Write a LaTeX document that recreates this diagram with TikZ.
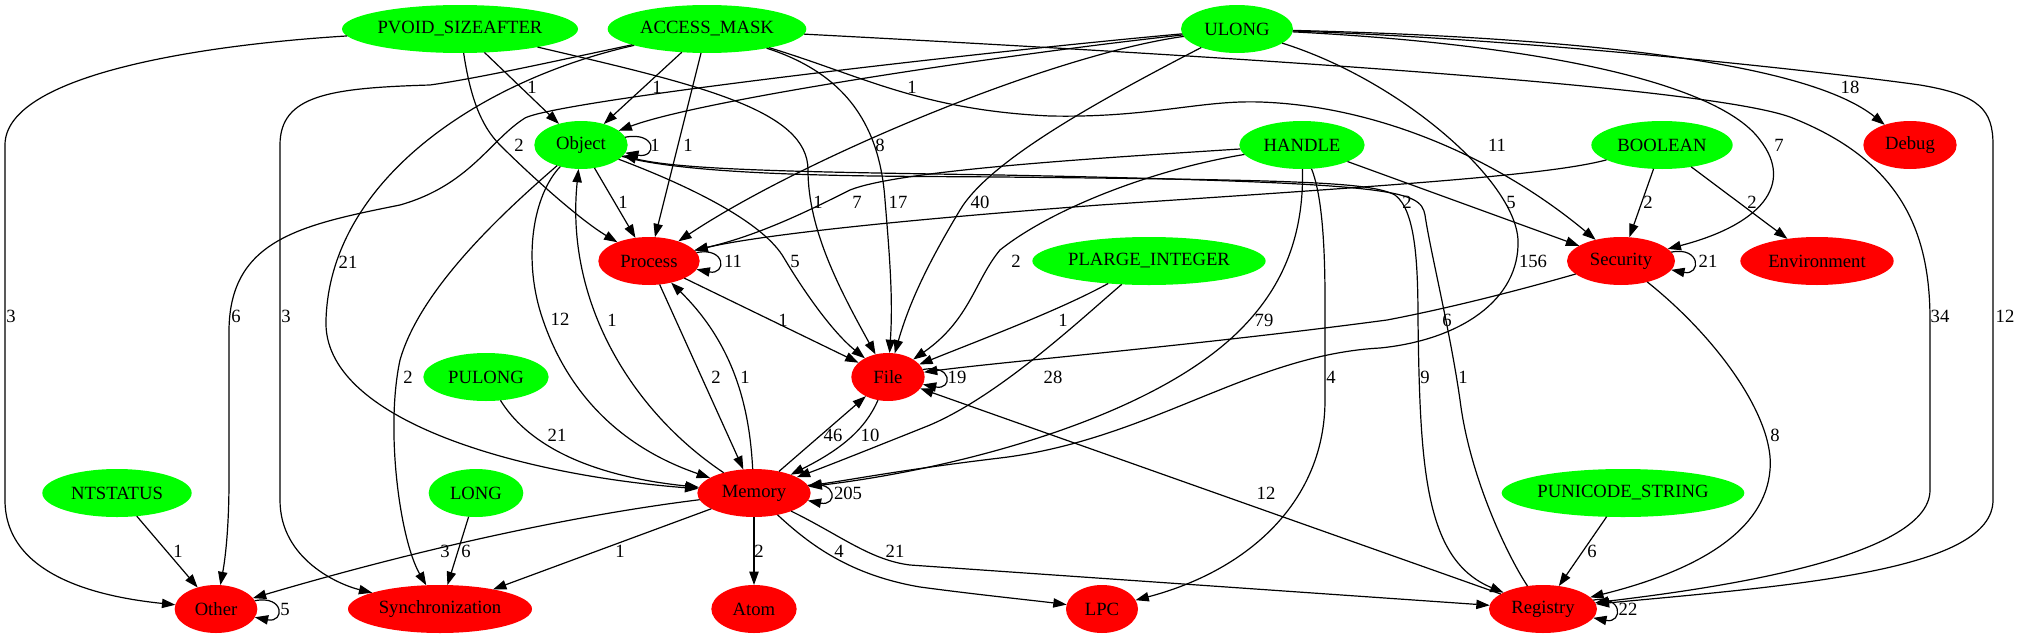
\documentclass[tikz,border=0pt]{standalone}
\usepackage{fontspec}
\setmainfont{Liberation Serif}
\usetikzlibrary{arrows.meta,shapes.geometric}
\definecolor{typegreen}{RGB}{0,255,0}
\definecolor{catred}{RGB}{255,0,0}
\begin{document}
\begin{tikzpicture}[x=0.75pt,y=-0.75pt,
		font=\fontsize{14}{16}\selectfont,
		every node/.style={inner sep=0pt,outer sep=0pt},
		ntype/.style={ellipse,fill=typegreen,minimum height=36pt},
		ncat/.style={ellipse,fill=catred,minimum height=36pt},
		dep/.style={draw,line width=0.9pt,-{Triangle[length=10pt,width=7pt]}},
		lbl/.style={}]
			%%%%% START %%%%%
			\useasboundingbox (0,0) rectangle (2017,639);
			
			% types
			\node[ntype,minimum width=177pt] (pvoid) at (460,29) {PVOID\_SIZEAFTER};
			\node[ntype,minimum width=149pt] (amask) at (707,29) {ACCESS\_MASK};
			\node[ntype,minimum width=84pt] (ulong) at (1237,29) {ULONG};
			\node[ntype,minimum width=70pt] (object) at (581,145) {Object};
			\node[ntype,minimum width=94pt] (handle) at (1302,145) {HANDLE};
			\node[ntype,minimum width=106pt] (boolean) at (1662,145) {BOOLEAN};
			\node[ntype,minimum width=175pt] (plarge) at (1149,261) {PLARGE\_INTEGER};
			\node[ntype,minimum width=94pt] (pulong) at (486,377) {PULONG};
			\node[ntype,minimum width=112pt] (ntstatus) at (117,493) {NTSTATUS};
			\node[ntype,minimum width=71pt] (long) at (476,493) {LONG};
			\node[ntype,minimum width=182pt] (punicode) at (1623,493) {PUNICODE\_STRING};
			
			% categories
			\node[ncat,minimum width=70pt] (debug) at (1910,145) {Debug};
			\node[ncat,minimum width=76pt] (process) at (649,261) {Process};
			\node[ncat,minimum width=81pt] (security) at (1621,261) {Security};
			\node[ncat,minimum width=115pt] (environ) at (1817,261) {Environment};
			\node[ncat,minimum width=55pt] (file) at (888,377) {File};
			\node[ncat,minimum width=85pt] (memory) at (754,493) {Memory};
			\node[ncat,minimum width=62pt] (other) at (216,609) {Other};
			\node[ncat,minimum width=138pt] (sync) at (440,609) {Synchronization};
			\node[ncat,minimum width=64pt] (atom) at (754,609) {Atom};
			\node[ncat,minimum width=54pt] (lpc) at (1102,609) {LPC};
			\node[ncat,minimum width=81pt] (registry) at (1543,609) {Registry};
			
			% PVOID_SIZEAFTER
			\draw[dep] (pvoid) .. controls (200,45) and (5,75) .. (5,145) -- (5,500) .. controls (5,580) and (110,598) .. (other) node[lbl] at (11,316) {3};
			\draw[dep] (pvoid) -- (object) node[lbl] at (532,87) {1};
			\draw[dep] (pvoid) .. controls (470,95) and (480,125) .. (500,145) .. controls (530,175) and (580,220) .. (process) node[lbl] at (519,145) {2};
			\draw[dep] (pvoid) .. controls (700,85) and (808,110) .. (808,170) .. controls (808,230) and (840,290) .. (file) node[lbl] at (818,202) {1};
			
			% ACCESS_MASK
			\draw[dep] (amask) -- (object) node[lbl] at (657,87) {1};
			\draw[dep] (amask) -- (process) node[lbl] at (688,145) {1};
			\draw[dep] (amask) .. controls (560,60) and (480,78) .. (430,85) .. controls (330,88) and (280,95) .. (280,145) -- (280,500) .. controls (280,560) and (340,585) .. (sync) node[lbl] at (286,316) {3};
			\draw[dep] (amask) .. controls (480,80) and (330,180) .. (326,320) .. controls (322,420) and (520,475) .. (memory) node[lbl] at (348,262) {21};
			\draw[dep] (amask) .. controls (850,75) and (880,130) .. (885,200) .. controls (890,260) and (893,300) .. (file) node[lbl] at (898,202) {17};
			\draw[dep] (amask) .. controls (860,75) and (920,110) .. (1050,116) .. controls (1150,118) and (1200,100) .. (1260,102) .. controls (1380,106) and (1500,160) .. (security) node[lbl] at (1497,145) {11};
			\draw[dep] (amask) .. controls (1200,55) and (1700,85) .. (1790,117) .. controls (1900,160) and (1930,230) .. (1930,320) -- (1930,490) .. controls (1930,560) and (1700,590) .. (registry) node[lbl] at (1940,316) {34};
			
			% ULONG
			\draw[dep] (ulong) .. controls (1000,50) and (560,100) .. (525,118) .. controls (490,140) and (470,185) .. (400,205) .. controls (300,225) and (230,240) .. (229,330) -- (229,480) .. controls (229,530) and (225,560) .. (other) node[lbl] at (236,316) {6};
			\draw[dep] (ulong) .. controls (1000,55) and (700,100) .. (object) node[lbl] at (912,87) {1};
			\draw[dep] (ulong) .. controls (1050,55) and (800,160) .. (process) node[lbl] at (880,145) {8};
			\draw[dep] (ulong) .. controls (1100,100) and (990,160) .. (960,210) .. controls (930,260) and (910,300) .. (file) node[lbl] at (980,202) {40};
			\draw[dep] (ulong) .. controls (1550,45) and (1720,85) .. (1760,140) .. controls (1795,185) and (1760,225) .. (security) node[lbl] at (1779,145) {7};
			\draw[dep] (ulong) .. controls (1600,38) and (1810,65) .. (debug) node[lbl] at (1850,87) {18};
			\draw[dep] (ulong) .. controls (1550,40) and (1850,75) .. (1920,85) .. controls (1980,95) and (1993,110) .. (1993,145) -- (1993,500) .. controls (1993,570) and (1800,585) .. (registry) node[lbl] at (2005,316) {12};
			\draw[dep] (ulong) .. controls (1400,80) and (1515,180) .. (1518,240) .. controls (1520,300) and (1460,340) .. (1380,348) .. controls (1250,355) and (1150,440) .. (1000,458) .. controls (900,470) and (850,480) .. (memory) node[lbl] at (1533,261) {156};
			
			% Object
			\draw[dep] (object.10) .. controls +(32,-6) and +(32,6) .. (object.-10) node[lbl] at (655,145) {1};
			\draw[dep] (object) -- (process) node[lbl] at (623,202) {1};
			\draw[dep] (object) .. controls (533,195) and (522,260) .. (543,320) .. controls (560,370) and (600,440) .. (memory) node[lbl] at (560,319) {12};
			\draw[dep] (object) .. controls (500,215) and (420,290) .. (400,360) .. controls (385,430) and (400,540) .. (sync) node[lbl] at (408,377) {2};
			\draw[dep] (object) .. controls (700,178) and (900,176) .. (1000,177) .. controls (1300,180) and (1370,182) .. (1395,195) .. controls (1415,210) and (1418,260) .. (1418,320) .. controls (1420,470) and (1425,560) .. (registry) node[lbl] at (1425,377) {9};
			\draw[dep] (object) .. controls (700,190) and (765,225) .. (784,258) .. controls (800,285) and (830,330) .. (file) node[lbl] at (795,261) {5};
			
			% HANDLE
			\draw[dep] (handle) .. controls (1100,158) and (900,170) .. (850,190) .. controls (810,210) and (760,235) .. (process) node[lbl] at (857,202) {7};
			\draw[dep] (handle) .. controls (1150,170) and (1050,210) .. (1000,250) .. controls (975,280) and (970,320) .. (file) node[lbl] at (1016,261) {2};
			\draw[dep] (handle) -- (security) node[lbl] at (1511,202) {5};
			\draw[dep] (handle) .. controls (1304,240) and (1280,290) .. (1240,330) .. controls (1150,420) and (950,470) .. (memory) node[lbl] at (1264,320) {79};
			\draw[dep] (handle) .. controls (1320,190) and (1325,230) .. (1325,300) -- (1325,400) .. controls (1325,500) and (1250,570) .. (lpc) node[lbl] at (1331,377) {4};
			
			% BOOLEAN
			\draw[dep] (boolean) .. controls (1550,175) and (1400,185) .. (1100,205) .. controls (900,220) and (760,235) .. (process) node[lbl] at (1407,202) {2};
			\draw[dep] (boolean) -- (security) node[lbl] at (1648,202) {2};
			\draw[dep] (boolean) -- (environ) node[lbl] at (1752,202) {2};
			
			% Process
			\draw[dep] (process.10) .. controls +(30,-6) and +(30,6) .. (process.-10) node[lbl] at (733,261) {11};
			\draw[dep] (process) -- (file) node[lbl] at (783,320) {1};
			\draw[dep] (process) -- (memory) node[lbl] at (716,377) {2};
			
			% PLARGE_INTEGER
			\draw[dep] (plarge) .. controls (1060,310) and (980,340) .. (file) node[lbl] at (1063,320) {1};
			\draw[dep] (plarge) .. controls (1080,320) and (1000,395) .. (930,425) .. controls (880,445) and (830,465) .. (memory) node[lbl] at (1053,377) {28};
			
			% Security
			\draw[dep] (security.10) .. controls +(30,-6) and +(30,6) .. (security.-10) node[lbl] at (1708,261) {21};
			\draw[dep] (security) .. controls (1520,290) and (1450,308) .. (1387,320) .. controls (1200,345) and (1000,362) .. (file) node[lbl] at (1447,320) {6};
			\draw[dep] (security) .. controls (1720,340) and (1775,420) .. (1770,470) .. controls (1765,530) and (1700,570) .. (registry) node[lbl] at (1775,435) {8};
			
			% PULONG
			\draw[dep] (pulong) .. controls (525,440) and (580,475) .. (memory) node[lbl] at (557,435) {21};
			
			% File
			\draw[dep] (file.12) .. controls +(30,-6) and +(30,6) .. (file.-12) node[lbl] at (957,377) {19};
			\draw[dep] (file) .. controls (865,430) and (840,450) .. (memory) node[lbl] at (870,435) {10};
			
			% Memory
			\draw[dep] (memory.8) .. controls +(30,-6) and +(30,6) .. (memory.-8) node[lbl] at (848,493) {205};
			\draw[dep] (memory) -- (file) node[lbl] at (833,435) {46};
			\draw[dep] (memory) .. controls (630,410) and (565,300) .. (object) node[lbl] at (612,320) {1};
			\draw[dep] (memory) .. controls (750,420) and (740,350) .. (process) node[lbl] at (745,377) {1};
			\draw[dep] (memory) .. controls (600,512) and (450,540) .. (other) node[lbl] at (445,551) {3};
			\draw[dep] (memory) -- (sync) node[lbl] at (620,551) {1};
			\draw[dep] (memory) -- (atom) node[lbl] at (759,551) {2};
			\draw[dep] (memory) .. controls (810,545) and (850,575) .. (920,587) .. controls (980,595) and (1030,600) .. (lpc) node[lbl] at (839,551) {4};
			\draw[dep] (memory) .. controls (840,535) and (870,560) .. (910,565) -- (registry) node[lbl] at (895,551) {21};
			
			% NTSTATUS, LONG, PUNICODE_STRING
			\draw[dep] (ntstatus) -- (other) node[lbl] at (178,551) {1};
			\draw[dep] (long) -- (sync) node[lbl] at (466,551) {6};
			\draw[dep] (punicode) -- (registry) node[lbl] at (1592,551) {6};
			
			% Other, Registry
			\draw[dep] (other.12) .. controls +(30,-6) and +(30,6) .. (other.-12) node[lbl] at (285,609) {5};
			\draw[dep] (registry.10) .. controls +(30,-6) and +(30,6) .. (registry.-10) node[lbl] at (1628,609) {22};
			\draw[dep] (registry) -- (file) node[lbl] at (1266,493) {12};
			\draw[dep] (registry) .. controls (1510,560) and (1470,480) .. (1460,400) .. controls (1450,330) and (1430,250) .. (1425,215) .. controls (1420,190) and (1400,183) .. (1000,175) .. controls (800,172) and (680,170) .. (object) node[lbl] at (1463,377) {1};
			
			%%%%% END %%%%%
\end{tikzpicture}
\end{document}
